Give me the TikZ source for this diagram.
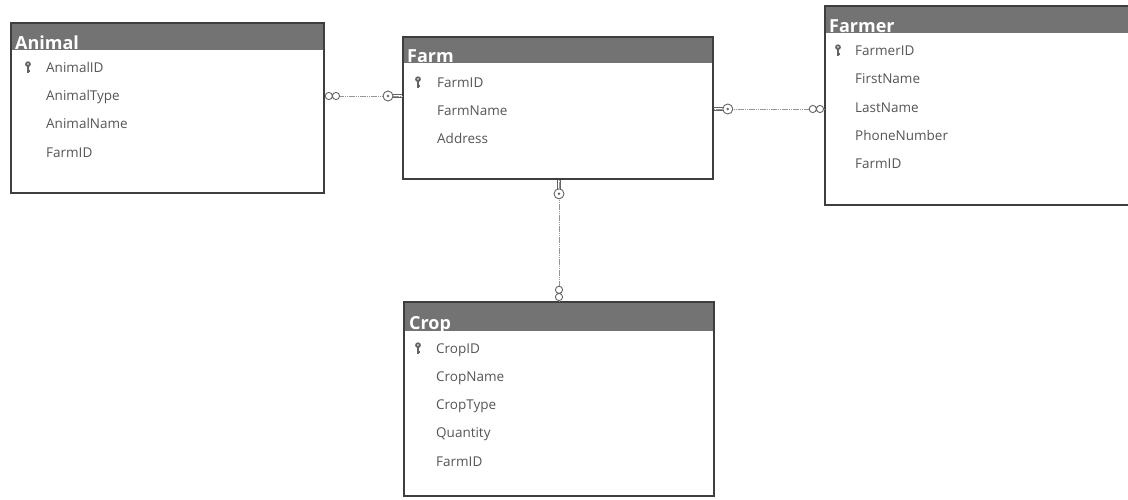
\documentclass[tikz,border=0pt]{standalone}
\usepackage{fontspec}
\setmainfont{Open Sans}
\definecolor{hdr}{RGB}{115,115,115}
\definecolor{brd}{RGB}{62,62,62}
\definecolor{txt}{RGB}{85,85,85}
\definecolor{lnk}{RGB}{150,150,150}
\definecolor{glyph}{RGB}{100,100,100}
\tikzset{
  tbl/.style={draw=brd, line width=1.8pt, anchor=north west, inner sep=0pt},
  ttl/.style={anchor=base west, text=white, font=\fontsize{18}{18}\selectfont\bfseries, inner sep=0pt},
  fld/.style={anchor=base west, text=txt, font=\fontsize{13.5}{13.5}\selectfont, inner sep=0pt},
  conn/.style={draw=lnk, line width=0.9pt, dash pattern=on 1.6pt off 0.6pt},
  pk/.pic={
    \fill[glyph] (0,-2.8) circle (2.9);
    \fill[white] (0,-3) circle (0.9);
    \draw[glyph, line width=1.1pt] (0,0) -- (0,5.5) (0,4) -- (2,4);
  },
  keyend/.pic={
    \draw[glyph, line width=0.8pt] (0,-1.8) -- (9,-1.8) (0,1.8) -- (9,1.8);
    \draw[glyph, line width=0.9pt, fill=white] (14,0) circle (5);
    \fill[glyph] (14,0) circle (1.4);
  },
  infend/.pic={
    \draw[glyph, line width=0.9pt, fill=white] (4,0) circle (3.6) (11.2,0) circle (3.6);
  }
}
\begin{document}
\begin{tikzpicture}[x=1pt,y=-1pt]
\useasboundingbox (0,0) rectangle (1128,499);
\clip (0,0) rectangle (1128,499);
\fill[white] (0,0) rectangle (1128,499);

% Animal
\fill[hdr] (10,22) rectangle (323,50);
\node[tbl, minimum width=313pt, minimum height=170pt] (animal) at (10,22) {};
\node[ttl] (animalT) at (15,49) {Animal};
\pic at (28,67) {pk};
\node[fld] (animal1) at (46,72) {AnimalID};
\node[fld] (animal2) at (46,100) {AnimalType};
\node[fld] (animal3) at (46,128) {AnimalName};
\node[fld] (animal4) at (46,157) {FarmID};

% Farm
\fill[hdr] (402,36) rectangle (712,63);
\node[tbl, minimum width=310pt, minimum height=142pt] (farm) at (402,36) {};
\node[ttl] (farmT) at (407,62) {Farm};
\pic at (418,82) {pk};
\node[fld] (farm1) at (437,87) {FarmID};
\node[fld] (farm2) at (437,115) {FarmName};
\node[fld] (farm3) at (437,143) {Address};

% Farmer
\fill[hdr] (824,5) rectangle (1140,33);
\node[tbl, minimum width=316pt, minimum height=199pt] (farmer) at (824,5) {};
\node[ttl] (farmerT) at (829,32) {Farmer};
\pic at (838,50) {pk};
\node[fld] (farmer1) at (855,55) {FarmerID};
\node[fld] (farmer2) at (855,83) {FirstName};
\node[fld] (farmer3) at (855,112) {LastName};
\node[fld] (farmer4) at (855,140) {PhoneNumber};
\node[fld] (farmer5) at (855,168) {FarmID};

% Crop
\fill[hdr] (403,301) rectangle (713,331);
\node[tbl, minimum width=310pt, minimum height=194pt] (crop) at (403,301) {};
\node[ttl] (cropT) at (409,329) {Crop};
\pic at (418,348) {pk};
\node[fld] (crop1) at (436,353) {CropID};
\node[fld] (crop2) at (436,381) {CropName};
\node[fld] (crop3) at (436,409) {CropType};
\node[fld] (crop4) at (436,437) {Quantity};
\node[fld] (crop5) at (436,466) {FarmID};

% Connectors
\coordinate (yAF) at (0,96);
\coordinate (yFF) at (0,109);
\coordinate (xFC) at (559,0);
\draw[conn] (animal.east |- yAF) -- (farm.west |- yAF);
\pic at (animal.east |- yAF) {infend};
\pic[rotate=180] at (farm.west |- yAF) {keyend};

\draw[conn] (farm.east |- yFF) -- (farmer.west |- yFF);
\pic at (farm.east |- yFF) {keyend};
\pic[rotate=180] at (farmer.west |- yFF) {infend};

\draw[conn] (farm.south -| xFC) -- (crop.north -| xFC);
\pic[rotate=-90] at (farm.south -| xFC) {keyend};
\pic[rotate=90] at (crop.north -| xFC) {infend};
\end{tikzpicture}
\end{document}
